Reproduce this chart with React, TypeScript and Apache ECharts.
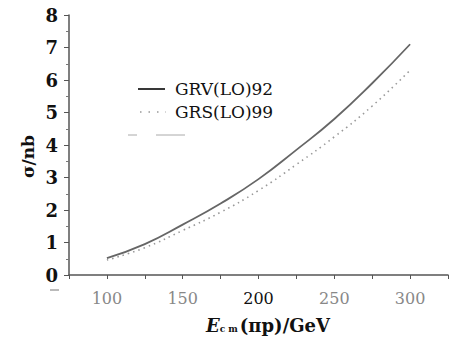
import React, { useEffect, useRef } from "react";
import * as echarts from "echarts";

const energies = [100, 125, 150, 175, 200, 225, 250, 275, 300];
const grv92 = [0.52, 0.95, 1.55, 2.2, 2.95, 3.85, 4.8, 5.9, 7.1];
const grs99 = [0.46, 0.84, 1.37, 1.93, 2.6, 3.4, 4.25, 5.2, 6.3];
const seriesNames = ["GRV(LO)92", "GRS(LO)99"];
const yTicks = [0, 1, 2, 3, 4, 5, 6, 7, 8];

const SERIF = "DejaVu Serif";

export default function App() {
  const ref = useRef<HTMLDivElement>(null);
  useEffect(() => {
    if (!ref.current) return;
    const chart = echarts.init(ref.current, null, { renderer: "svg" });
    const pairs = (ys: number[]) => energies.map((e, i) => [e, ys[i]]);
    chart.setOption({
      animation: false,
      backgroundColor: "#ffffff",
      textStyle: { fontFamily: SERIF },
      grid: { left: 69, top: 15, width: 385, bottom: 69, containLabel: false },
      xAxis: {
        type: "value",
        min: 75,
        max: 325,
        interval: 25,
        splitLine: { show: false },
        axisLine: { show: true, lineStyle: { color: "#555", width: 1.5 } },
        axisTick: { show: true, length: 4, lineStyle: { color: "#555" } },
        axisLabel: {
          margin: 15,
          fontFamily: SERIF,
          fontSize: 16,
          color: "#888",
          formatter: (v: number) => (v % 50 === 0 && v >= 100 && v <= 300 ? (v === 200 ? "{b|200}" : String(v)) : ""),
          rich: { b: { color: "#111", fontFamily: SERIF, fontSize: 16 } },
        },
      },
      yAxis: {
        type: "value",
        min: yTicks[0],
        max: yTicks[yTicks.length - 1],
        interval: 1,
        splitLine: { show: false },
        axisLine: { show: true, lineStyle: { color: "#555", width: 1.5 } },
        axisTick: { show: true, length: 5, lineStyle: { color: "#555" } },
        minorTick: { show: true, splitNumber: 2, length: 3, lineStyle: { color: "#777" } },
        axisLabel: {
          margin: 11,
          fontFamily: SERIF,
          fontSize: 18,
          fontWeight: "bold",
          color: "#111",
        },
      },
      graphic: [
        {
          type: "text",
          rotation: Math.PI / 2,
          style: {
            text: "σ/nb",
            fontFamily: SERIF,
            fontSize: 17,
            fontWeight: "bold",
            fill: "#111",
          },
          x: 19,
          y: 178,
        },
        {
          type: "text",
          x: 206,
          y: 316,
          style: {
            text: "{e|E}{s|c m}{t|(πp)/GeV}",
            rich: {
              e: { fontFamily: SERIF, fontSize: 18, fontStyle: "italic", fontWeight: "bold", fill: "#111" },
              s: { fontFamily: SERIF, fontSize: 9, fontWeight: "bold", fill: "#111", padding: [8, 2, 0, 0] },
              t: { fontFamily: SERIF, fontSize: 18, fontWeight: "bold", fill: "#111" },
            },
          },
        },
        // legend samples
        { type: "line", shape: { x1: 138, y1: 89, x2: 165, y2: 89 }, style: { stroke: "#222", lineWidth: 1.8 } },
        { type: "text", x: 175, y: 89, style: { text: seriesNames[0], fontFamily: SERIF, fontSize: 17, fill: "#111", verticalAlign: "middle" } },
        { type: "line", shape: { x1: 140, y1: 112, x2: 166, y2: 112 }, style: { stroke: "#999", lineWidth: 1.5, lineDash: [1.5, 7] } },
        { type: "text", x: 175, y: 112, style: { text: seriesNames[1], fontFamily: SERIF, fontSize: 17, fill: "#111", verticalAlign: "middle" } },
        // scan artefacts
        { type: "line", shape: { x1: 128, y1: 135, x2: 137, y2: 135 }, style: { stroke: "#aaa", lineWidth: 1 } },
        { type: "line", shape: { x1: 156, y1: 135, x2: 185, y2: 135 }, style: { stroke: "#aaa", lineWidth: 1 } },
        { type: "line", shape: { x1: 50, y1: 290, x2: 59, y2: 290 }, style: { stroke: "#777", lineWidth: 1 } },
      ],
      series: [
        {
          name: seriesNames[0],
          type: "line",
          smooth: true,
          showSymbol: false,
          symbol: "none",
          data: pairs(grv92),
          lineStyle: { color: "#666", width: 1.8, type: "solid" },
        },
        {
          name: seriesNames[1],
          type: "line",
          smooth: true,
          showSymbol: false,
          symbol: "none",
          data: pairs(grs99),
          lineStyle: { color: "#999", width: 1.6, type: [1.5, 4] },
        },
      ],
    });
    return () => chart.dispose();
  }, []);
  return <div ref={ref} style={{ width: 451, height: 344, position: "absolute", left: 0, top: 0 }} />;
}
